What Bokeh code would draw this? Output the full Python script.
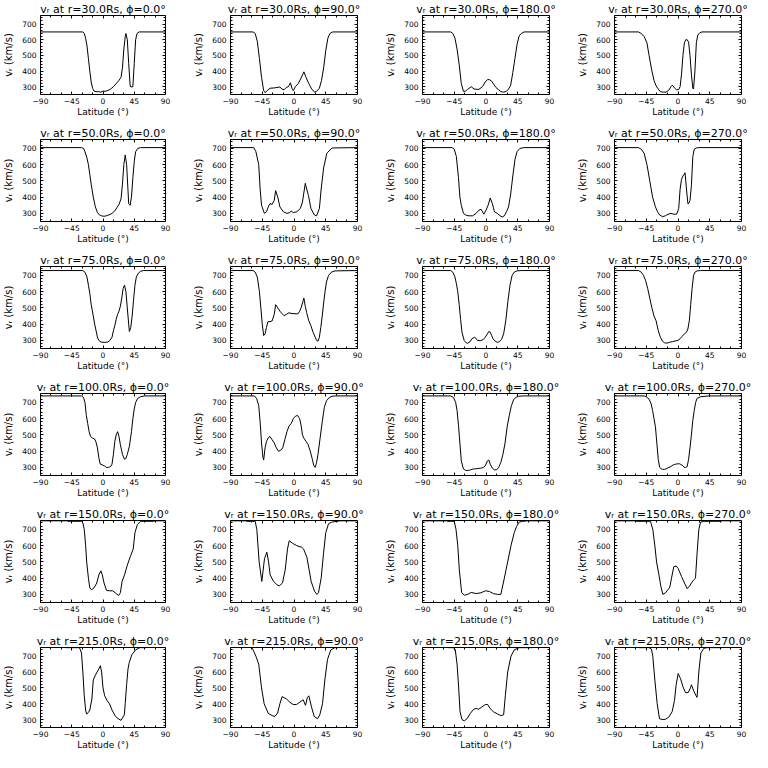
from bokeh.plotting import figure
from bokeh.layouts import gridplot
from bokeh.models import Range1d, FixedTicker, LinearAxis
from bokeh.embed import file_html
from bokeh.resources import INLINE

radii = [30.0, 50.0, 75.0, 100.0, 150.0, 215.0]
phis = [0.0, 90.0, 180.0, 270.0]
x_ticks = [-90, -45, 0, 45, 90]
x_tick_labels = ["−90", "−45", "0", "45", "90"]
x_minor_ticks = [-75, -60, -30, -15, 15, 30, 60, 75]
y_ticks = [300, 400, 500, 600, 700]
y_minor_ticks = [260, 280, 320, 340, 360, 380, 420, 440, 460, 480, 520, 540, 560, 580, 620, 640, 660, 680, 720, 740]
x_label = "Latitude (°)"
y_label = "vᵣ (km/s)"

# ---- r = 30 Rs
lat_r30_p0 = [-90, -29, -27, -25, -23, -21, -19, -17, -15, -13, -10, -6, -3, 0, 3, 7, 11, 15, 19, 23, 26, 28, 30, 32, 33, 35, 37, 39, 40, 43, 45, 47, 49, 52, 90]
v_r30_p0 = [650, 650, 640, 610, 560, 480, 400, 330, 290, 272, 268, 268, 265, 272, 270, 276, 285, 300, 320, 340, 360, 420, 540, 620, 640, 600, 450, 310, 298, 300, 450, 600, 640, 650, 650]
lat_r30_p90 = [-90, -58, -55, -52, -49, -46, -43, -41, -38, -34, -28, -24, -20, -17, -14, -11, -8, -5, -3, -1, 2, 6, 10, 14, 17, 21, 25, 29, 32, 36, 39, 42, 45, 48, 51, 55, 90]
v_r30_p90 = [650, 650, 640, 590, 480, 360, 275, 262, 275, 290, 292, 295, 298, 285, 280, 295, 300, 325, 290, 275, 300, 320, 355, 395, 360, 320, 285, 265, 270, 290, 340, 420, 530, 610, 640, 650, 650]
lat_r30_p180 = [-90, -50, -47, -44, -41, -38, -35, -32, -29, -26, -21, -17, -13, -10, -5, -1, 2, 5, 8, 11, 14, 18, 21, 25, 29, 32, 35, 38, 41, 44, 47, 50, 54, 90]
v_r30_p180 = [650, 650, 640, 610, 540, 440, 320, 270, 272, 283, 300, 285, 283, 283, 300, 330, 345, 345, 335, 315, 295, 280, 268, 265, 270, 285, 310, 390, 480, 570, 625, 640, 650, 650]
lat_r30_p270 = [-90, -56, -52, -48, -44, -41, -37, -34, -31, -28, -25, -21, -17, -13, -10, -8, -5, -2, 1, 3, 5, 7, 9, 11, 13, 15, 17, 19, 21, 22, 24, 26, 28, 31, 34, 90]
v_r30_p270 = [650, 650, 640, 620, 580, 500, 400, 340, 305, 285, 268, 265, 265, 278, 300, 310, 292, 280, 282, 300, 380, 500, 580, 600, 600, 585, 500, 380, 290, 285, 400, 580, 630, 645, 650, 650]

# ---- r = 50 Rs
lat_r50_p0 = [-90, -31, -28, -26, -23, -21, -19, -17, -14, -11, -8, -5, -2, 0, 3, 6, 10, 13, 17, 20, 23, 26, 28, 30, 32, 34, 36, 37, 39, 41, 43, 45, 47, 50, 54, 90]
v_r50_p0 = [705, 705, 700, 680, 640, 600, 540, 480, 400, 340, 305, 290, 285, 283, 283, 287, 293, 300, 315, 335, 355, 390, 480, 600, 660, 600, 440, 360, 350, 400, 520, 620, 680, 700, 705, 705]
lat_r50_p90 = [-90, -57, -54, -50, -48, -46, -42, -39, -36, -34, -31, -28, -26, -23, -20, -15, -10, -6, -4, -1, 4, 9, 12, 16, 18, 20.5, 24, 29, 32, 36, 38.5, 42, 46.5, 54, 90]
v_r50_p90 = [705, 705, 680, 600, 450, 350, 300, 310, 345, 360, 355, 380, 440, 400, 340, 310, 300, 305, 315, 305, 310, 330, 370, 485, 450, 410, 330, 290, 285, 330, 450, 580, 670, 703, 705]
lat_r50_p180 = [-90, -48, -45, -42, -39, -37, -35, -32, -28, -24, -19, -14, -10, -7, -3, 0, 3, 6, 9, 12, 16, 20, 23, 26, 29, 32, 35, 38, 41, 44, 48, 54, 90]
v_r50_p180 = [705, 705, 695, 650, 520, 400, 350, 300, 288, 285, 285, 300, 320, 325, 295, 320, 350, 395, 360, 310, 300, 285, 278, 285, 310, 340, 420, 530, 630, 680, 700, 705, 705]
lat_r50_p270 = [-90, -56, -52, -48, -44, -40, -36, -32, -29, -26, -22, -18, -14, -10, -6, -2, 1, 3, 5, 7, 10, 12, 14, 15, 17, 19, 21, 23, 26, 30, 90]
v_r50_p270 = [705, 705, 695, 670, 600, 500, 400, 340, 310, 290, 280, 285, 295, 300, 295, 295, 330, 450, 510, 530, 550, 450, 360, 360, 380, 470, 650, 695, 703, 705, 705]

# ---- r = 75 Rs
lat_r75_p0 = [-90, -29, -26, -23, -21, -19, -17, -14, -12, -10, -8, -6, -3, 0, 4, 7, 10, 13, 15, 17, 19, 21, 23, 25, 27, 29, 31, 33, 35, 37, 38, 40, 42, 44, 46, 48, 51, 54, 58, 90]
v_r75_p0 = [730, 730, 720, 690, 640, 590, 520, 450, 400, 360, 320, 300, 290, 288, 288, 290, 300, 320, 360, 390, 430, 460, 480, 510, 560, 620, 640, 600, 500, 400, 355, 380, 450, 550, 640, 690, 715, 725, 730, 730]
lat_r75_p90 = [-90, -58, -55, -52, -49, -47, -45, -43, -41, -39, -37, -34, -31, -28, -26, -23, -20, -17, -14, -11, -7, -3, 0, 3, 6, 8, 10, 12, 14, 16, 18, 21, 24, 27, 30, 32, 34, 36, 38, 40, 42, 44, 46, 49, 53, 58, 90]
v_r75_p90 = [730, 730, 720, 690, 600, 500, 400, 330, 340, 380, 415, 415, 420, 460, 520, 500, 480, 465, 452, 460, 470, 465, 465, 463, 465, 480, 500, 530, 560, 510, 470, 420, 390, 350, 320, 300, 295, 320, 380, 450, 530, 600, 660, 700, 720, 728, 730]
lat_r75_p180 = [-90, -50, -47, -44, -42, -40, -38, -36, -34, -31, -28, -26, -23, -20, -16, -12, -8, -4, -1, 2, 4, 6, 8, 10, 13, 16, 19, 22, 25, 28, 31, 34, 37, 40, 44, 50, 90]
v_r75_p180 = [730, 730, 720, 690, 650, 600, 520, 430, 350, 300, 285, 282, 290, 310, 320, 300, 298, 305, 320, 340, 355, 350, 330, 310, 295, 288, 292, 305, 340, 420, 540, 640, 700, 720, 728, 730, 730]
lat_r75_p270 = [-90, -56, -52, -49, -46, -43, -40, -37, -34, -31, -28, -25, -22, -19, -16, -12, -8, -4, 0, 3, 6, 9, 12, 14, 16, 18, 20, 22, 24, 27, 32, 90]
v_r75_p270 = [730, 730, 720, 700, 670, 620, 560, 500, 450, 420, 360, 320, 295, 285, 283, 288, 292, 296, 300, 310, 325, 340, 350, 370, 420, 520, 620, 700, 720, 728, 730, 730]

# ---- r = 100 Rs
lat_r100_p0 = [-90, -31, -28, -26, -24, -22, -20, -18, -15, -12, -10, -8, -6, -4, -1, 2, 5, 8, 11, 13, 15, 17, 19, 21, 23, 25, 28, 31, 33, 35, 38, 41, 43, 45, 47, 50, 54, 60, 90]
v_r100_p0 = [740, 740, 730, 700, 620, 570, 520, 490, 480, 475, 455, 420, 360, 320, 315, 310, 300, 300, 305, 320, 380, 460, 500, 520, 490, 440, 380, 350, 355, 380, 430, 520, 600, 660, 700, 725, 735, 740, 740]
lat_r100_p90 = [-90, -56, -53, -50, -48, -46, -44, -43, -41, -39, -36, -34, -31, -28, -25, -22, -19, -16, -13, -10, -7, -4, -1, 2, 5, 8, 10, 12, 14, 17, 20, 23, 26, 28, 30, 32, 34, 37, 40, 43, 46, 50, 54, 58, 90]
v_r100_p90 = [740, 740, 725, 680, 580, 450, 360, 345, 420, 460, 485, 490, 470, 450, 420, 400, 405, 420, 470, 520, 555, 570, 600, 615, 620, 600, 560, 500, 480, 460, 440, 400, 350, 310, 300, 330, 380, 480, 580, 670, 710, 730, 738, 740, 740]
lat_r100_p180 = [-90, -50, -46, -43, -41, -39, -37, -35, -32, -29, -26, -22, -18, -13, -8, -4, -1, 2, 4, 6, 9, 12, 15, 18, 21, 24, 27, 30, 33, 36, 39, 42, 46, 52, 90]
v_r100_p180 = [740, 740, 730, 700, 650, 560, 450, 340, 290, 282, 280, 285, 290, 292, 295, 298, 310, 340, 345, 320, 295, 285, 285, 300, 330, 380, 450, 550, 620, 680, 715, 730, 738, 740, 740]
lat_r100_p270 = [-90, -48, -45, -41, -38, -36, -34, -32, -30, -28, -26, -24, -22, -19, -17, -14, -10, -7, -5, -1, 2, 4, 7, 9, 11, 13, 15, 17, 19, 21, 23, 25, 27, 32, 44, 90]
v_r100_p270 = [740, 740, 735, 720, 690, 650, 600, 550, 450, 350, 300, 292, 288, 288, 290, 298, 305, 315, 318, 322, 322, 318, 310, 300, 300, 305, 350, 420, 500, 590, 650, 700, 725, 735, 740, 740]

# ---- r = 150 Rs
lat_r150_p0 = [-90, -52, -50, -31, -29, -27, -25, -23.5, -21, -19, -16.5, -13, -9, -6, -3, -1, 1.5, 5, 9, 14, 19, 22.5, 25, 27.5, 31, 35, 40, 43.5, 46, 49.5, 54, 73, 75, 90]
v_r150_p0 = [753, 753, 750, 750, 740, 700, 600, 500, 400, 340, 328, 340, 370, 420, 445, 420, 370, 325, 322, 322, 305, 293, 310, 380, 420, 480, 540, 580, 680, 730, 750, 750, 753, 753]
lat_r150_p90 = [-90, -69, -67, -55, -52.7, -49.4, -45.6, -41.8, -38.5, -36, -33.8, -29, -24.3, -21, -16.3, -12.5, -9.2, -6.8, -2.1, 4, 11, 13.5, 18.2, 21.5, 24.3, 29, 32.4, 34.7, 38.5, 41.8, 45, 48.9, 53.6, 60.7, 63, 65, 90]
v_r150_p90 = [753, 753, 750, 750, 700, 500, 380, 520, 560, 500, 420, 380, 360, 352, 370, 450, 580, 630, 615, 600, 590, 580, 530, 450, 380, 320, 300, 310, 400, 550, 680, 735, 745, 750, 750, 753, 753]
lat_r150_p180 = [-90, -56, -54, -45, -42.5, -40, -37.8, -34.5, -30.7, -26, -21, -14, -7, -1, 4.7, 10.4, 16.5, 21, 26, 30.7, 35.4, 40, 43.5, 47, 52, 55, 57, 90]
v_r150_p180 = [753, 753, 750, 750, 700, 600, 450, 310, 295, 300, 312, 305, 310, 322, 318, 305, 300, 300, 400, 500, 600, 680, 720, 745, 750, 750, 753, 753]
lat_r150_p270 = [-90, -60, -58, -39, -35.7, -32.8, -30.4, -27, -24.3, -21.5, -17.7, -14, -11.6, -9.2, -6, -2.6, 0.2, 5, 9.2, 13, 16.3, 19, 22.4, 24.8, 27, 29.5, 32, 36.6, 60, 62.6, 90]
v_r150_p270 = [753, 753, 750, 750, 700, 600, 500, 420, 350, 300, 310, 330, 345, 400, 470, 475, 460, 410, 370, 335, 350, 370, 390, 400, 550, 700, 745, 750, 750, 753, 753]

# ---- r = 215 Rs
lat_r215_p0 = [-90, -56, -54, -34, -33, -31, -29, -27, -25, -23.6, -21, -19, -16, -14, -11, -8.5, -6, -3.8, -2, 0, 2.4, 6, 9.4, 13, 18, 22, 26, 28, 30.7, 32, 34, 36, 37.8, 41.6, 47, 53, 62, 64, 90]
v_r215_p0 = [770, 770, 754, 754, 745, 720, 600, 450, 360, 335, 345, 360, 430, 550, 580, 600, 620, 640, 600, 500, 450, 420, 400, 360, 320, 305, 295, 310, 330, 400, 520, 620, 660, 710, 740, 754, 754, 770, 770]
lat_r215_p90 = [-90, -62, -60, -58, -54, -50, -46, -42.3, -36.6, -31, -27, -23.4, -20, -16.8, -10.6, -6, -1.2, 3.5, 8.3, 13, 16.3, 19, 21, 24.8, 28.6, 33.3, 36.6, 40.4, 43.7, 47.5, 52.2, 57.9, 62.6, 64, 90]
v_r215_p90 = [770, 770, 754, 740, 700, 650, 500, 400, 340, 325, 320, 340, 400, 445, 430, 410, 395, 395, 410, 425, 390, 440, 450, 380, 320, 305, 330, 400, 550, 680, 740, 754, 754, 770, 770]
lat_r215_p180 = [-90, -56, -54, -46, -43.5, -41, -38.7, -36.8, -34, -30.7, -27, -22, -17.5, -14, -10.4, -5.7, -1, 2.4, 5.7, 10.4, 16.5, 21, 25, 27.4, 30.7, 35.4, 40, 47, 66, 68, 90]
v_r215_p180 = [770, 770, 754, 754, 740, 650, 500, 350, 300, 292, 305, 340, 365, 370, 365, 380, 395, 395, 370, 350, 335, 325, 330, 450, 600, 700, 740, 754, 754, 770, 770]
lat_r215_p270 = [-90, -57.5, -55.5, -41, -37.6, -35.7, -32.8, -29.5, -26.2, -21.5, -17.7, -13, -8.3, -5, -2.6, 0.2, 3.5, 6.8, 10.6, 14.4, 17.7, 19, 22.4, 25.7, 27, 29.5, 32.4, 36.6, 41.3, 62.6, 64.5, 90]
v_r215_p270 = [770, 770, 754, 754, 745, 700, 550, 400, 305, 300, 302, 315, 350, 420, 520, 590, 560, 510, 470, 470, 500, 520, 480, 450, 440, 600, 720, 750, 754, 754, 770, 770]

curves = [
    [(lat_r30_p0, v_r30_p0), (lat_r30_p90, v_r30_p90), (lat_r30_p180, v_r30_p180), (lat_r30_p270, v_r30_p270)],
    [(lat_r50_p0, v_r50_p0), (lat_r50_p90, v_r50_p90), (lat_r50_p180, v_r50_p180), (lat_r50_p270, v_r50_p270)],
    [(lat_r75_p0, v_r75_p0), (lat_r75_p90, v_r75_p90), (lat_r75_p180, v_r75_p180), (lat_r75_p270, v_r75_p270)],
    [(lat_r100_p0, v_r100_p0), (lat_r100_p90, v_r100_p90), (lat_r100_p180, v_r100_p180), (lat_r100_p270, v_r100_p270)],
    [(lat_r150_p0, v_r150_p0), (lat_r150_p90, v_r150_p90), (lat_r150_p180, v_r150_p180), (lat_r150_p270, v_r150_p270)],
    [(lat_r215_p0, v_r215_p0), (lat_r215_p90, v_r215_p90), (lat_r215_p180, v_r215_p180), (lat_r215_p270, v_r215_p270)],
]

X0, X1 = -90, 90
Y0, Y1 = 250, 755
FONT = "DejaVu Sans"

col_w = [180, 192, 192, 188]
col_left = [38, 50, 50, 50]
col_right = [15, 15, 15, 11]
row_h = [124, 127, 127, 127, 127, 120]
row_top = [15, 15, 15, 15, 15, 15]
row_bottom = [30, 30, 30, 30, 30, 23]


def style_axis(ax, ticks, minor, tick_in, minor_in, labels, standoff, overrides=None):
    ax.ticker = FixedTicker(ticks=ticks, minor_ticks=minor)
    ax.axis_line_color = "black"
    ax.axis_line_width = 1
    ax.major_tick_line_color = "black"
    ax.minor_tick_line_color = "black"
    ax.major_tick_in = tick_in
    ax.major_tick_out = 0
    ax.minor_tick_in = minor_in
    ax.minor_tick_out = 0
    if labels:
        ax.major_label_text_font = FONT
        ax.major_label_text_font_size = "7.5px"
        ax.major_label_text_color = "black"
        ax.major_label_standoff = standoff
        if overrides:
            ax.major_label_overrides = overrides
    else:
        ax.major_label_text_color = None
        ax.major_label_text_font_size = "0px"
        ax.major_label_standoff = 0


x_overrides = dict(zip(x_ticks, x_tick_labels))

rows = []
for i, r in enumerate(radii):
    row = []
    for j, phi in enumerate(phis):
        lat, vel = curves[i][j]
        p = figure(width=col_w[j], height=row_h[i],
                   x_range=Range1d(X0, X1), y_range=Range1d(Y0, Y1),
                   output_backend="svg", toolbar_location=None,
                   min_border_left=col_left[j], min_border_right=col_right[j],
                   min_border_top=row_top[i], min_border_bottom=row_bottom[i])
        p.grid.visible = False
        p.outline_line_color = None
        p.background_fill_color = "white"
        p.border_fill_color = "white"

        p.title.text = "vᵣ at r=%.1fRs, ϕ=%.1f°" % (r, phi)
        p.title.text_font = FONT
        p.title.text_font_size = "11px"
        p.title.text_font_style = "normal"
        p.title.text_color = "black"
        p.title.align = "center"
        p.title.standoff = 0

        xa = p.xaxis[0]
        style_axis(xa, x_ticks, x_minor_ticks, 3, 2, True, 3, x_overrides)
        xa.axis_label = x_label
        xa.axis_label_text_font = FONT
        xa.axis_label_text_font_size = "9px"
        xa.axis_label_text_font_style = "normal"
        xa.axis_label_text_color = "black"
        xa.axis_label_standoff = 0

        ya = p.yaxis[0]
        style_axis(ya, y_ticks, y_minor_ticks, 3, 2, True, 4)
        ya.axis_label = y_label
        ya.axis_label_text_font = FONT
        ya.axis_label_text_font_size = "10px"
        ya.axis_label_text_font_style = "normal"
        ya.axis_label_text_color = "black"
        ya.axis_label_standoff = 5

        top_ax = LinearAxis()
        style_axis(top_ax, x_ticks, x_minor_ticks, 3, 2, False, 0)
        p.add_layout(top_ax, "above")
        right_ax = LinearAxis()
        style_axis(right_ax, y_ticks, y_minor_ticks, 3, 2, False, 0)
        p.add_layout(right_ax, "right")

        p.line(lat, vel, line_color="black", line_width=1)
        row.append(p)
    rows.append(row)

grid = gridplot(rows, toolbar_location=None)
open("out.html", "w").write(file_html(grid, INLINE, title="vr latitude profiles"))
